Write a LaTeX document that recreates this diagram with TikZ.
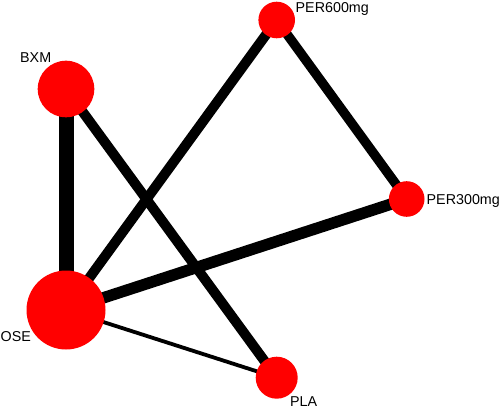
\documentclass[tikz,border=0pt]{standalone}
\usepackage{fontspec}
\setmainfont{Liberation Sans}
\usepackage{tikz}
\usetikzlibrary{calc}
\pgfdeclarelayer{background}
\pgfsetlayers{background,main}

\begin{document}
\begin{tikzpicture}
[x=1pt,y=-1pt,
vertex/.style={circle,inner sep=0pt,fill=red},
edge/.style={black,line cap=butt},
vertexLabel/.style={anchor=base west,inner sep=0pt,font=\fontsize{14.3}{16}\selectfont}]
\useasboundingbox (0,0) rectangle (500,409);
\node[vertex,minimum size=36.6pt] (per600) at (276.7 , 20.) {}; 
\node[vertex,minimum size=56.6pt] (bxm) at (66. , 89.) {}; 
\node[vertex,minimum size=35.6pt] (per300) at (406.7 , 199.) {}; 
\node[vertex,minimum size=79pt] (ose) at (66. , 310.) {}; 
\node[vertex,minimum size=42pt] (pla) at (276.7 , 377.7) {}; 
\node[vertexLabel] (per600Label) at (295.5 , 12.5) {PER600mg}; 
\node[vertexLabel] (bxmLabel) at (20. , 62.7) {BXM}; 
\node[vertexLabel] (per300Label) at (426.5 , 204.5) {PER300mg}; 
\node[vertexLabel] (oseLabel) at (0.5 , 341.) {OSE}; 
\node[vertexLabel] (plaLabel) at (290. , 406.) {PLA}; 
\begin{pgfonlayer}{background}
\draw[edge,line width=15pt](bxm.center) -- (ose.center) ; 
\draw[edge,line width=10pt](bxm.center) -- (pla.center) ; 
\draw[edge,line width=10pt](ose.center) -- (per600.center) ; 
\draw[edge,line width=11.5pt](ose.center) -- (per300.center) ; 
\draw[edge,line width=3.8pt](ose.center) -- (pla.center) ; 
\draw[edge,line width=9.5pt](per600.center) -- (per300.center) ; 
\end{pgfonlayer}
\end{tikzpicture}
\end{document}
